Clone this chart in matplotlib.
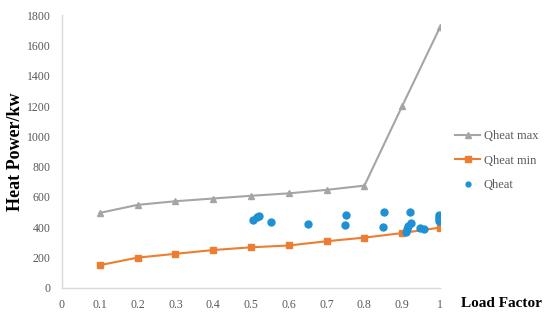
import matplotlib
matplotlib.use("Agg")
import matplotlib.pyplot as plt

load = [0.1, 0.2, 0.3, 0.4, 0.5, 0.6, 0.7, 0.8, 0.9, 1.0]
qheat_max = [495, 548, 572, 590, 608, 624, 647, 675, 1200, 1720]
qheat_min = [150, 200, 225, 250, 268, 280, 308, 332, 362, 398]

qheat_x = [0.506, 0.515, 0.521, 0.552, 0.65, 0.751, 0.75, 0.853, 0.85,
           0.921, 0.922, 0.916, 0.912, 0.91, 0.947, 0.958,
           0.997, 0.997, 0.997, 0.997]
qheat_y = [449, 467, 475, 434, 420, 484, 416, 500, 405,
           500, 431, 409, 387, 372, 394, 387,
           482, 470, 453, 440]

xticks = [0, 0.1, 0.2, 0.3, 0.4, 0.5, 0.6, 0.7, 0.8, 0.9, 1]
xticklabels = ["0", "0.1", "0.2", "0.3", "0.4", "0.5", "0.6", "0.7", "0.8", "0.9", "1"]
yticks = [0, 200, 400, 600, 800, 1000, 1200, 1400, 1600, 1800]

plt.rcParams['font.family'] = ['Liberation Serif', 'DejaVu Serif']

fig = plt.figure(figsize=(5.5, 3.21), dpi=100)
ax = fig.add_axes([0.1127, 0.103, 0.6873, 0.850])

ax.plot(load, qheat_max, color='#A5A5A5', lw=1.5, marker='^', ms=5, label='Qheat max')
ax.plot(load, qheat_min, color='#ED7D31', lw=1.5, marker='s', ms=5, label='Qheat min')
ax.plot(qheat_x, qheat_y, ls='none', color='#1F91D3', marker='o', ms=5, label='Qheat')

ax.set_xlim(0, 1)
ax.set_ylim(0, 1800)
ax.set_xticks(xticks)
ax.set_xticklabels(xticklabels)
ax.set_yticks(yticks)
for s in ['top', 'right']:
    ax.spines[s].set_visible(False)
for s in ['left', 'bottom']:
    ax.spines[s].set_color('#D9D9D9')
    ax.spines[s].set_linewidth(1.0)
ax.tick_params(length=0, labelsize=8.5, labelcolor='#595959', pad=8)

ax.set_ylabel('Heat Power/kw', fontsize=13, fontweight='bold', labelpad=2)
fig.text(0.985, 0.055, 'Load Factor', fontsize=11, fontweight='bold', ha='right', va='center')

leg = ax.legend(loc='center left', bbox_to_anchor=(1.01, 0.466), frameon=False,
                fontsize=9, handlelength=2.0, labelspacing=1.0, handletextpad=0.3,
                markerscale=0.8)
for t in leg.get_texts():
    t.set_color('#595959')
leg.legend_handles[2].set_markersize(3.5)

fig.savefig('out.png', dpi=100)
